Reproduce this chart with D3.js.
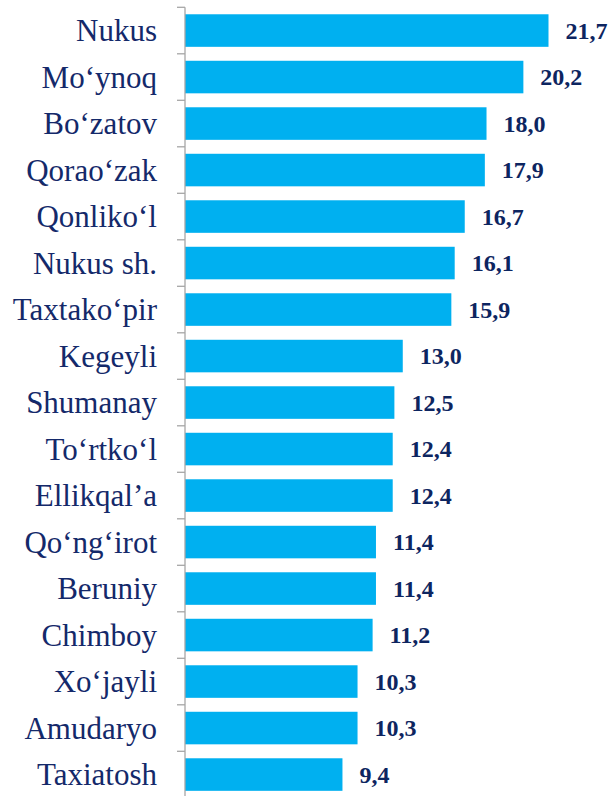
<!DOCTYPE html>
<html>
<head>
<meta charset="utf-8">
<script src="https://cdn.jsdelivr.net/npm/d3@7"></script>
<style>
html, body { margin: 0; padding: 0; background: #fff; }
#graphic { width: 612px; height: 796px; overflow: hidden; }
</style>
</head>
<body>
<div id="graphic"></div>
<script>
var districts = ["Nukus", "Mo‘ynoq", "Bo‘zatov", "Qorao‘zak", "Qonliko‘l", "Nukus sh.", "Taxtako‘pir",
	"Kegeyli", "Shumanay", "To‘rtko‘l", "Ellikqal’a", "Qo‘ng‘irot", "Beruniy", "Chimboy",
	"Xo‘jayli", "Amudaryo", "Taxiatosh"];
var values = [21.7, 20.2, 18.0, 17.9, 16.7, 16.1, 15.9, 13.0, 12.5, 12.4, 12.4, 11.4, 11.4, 11.2, 10.3, 10.3, 9.4];

var width = 612, height = 796;
var axisX = 185;
var topY = 7.3, step = 46.5;

var svg = d3.select("#graphic").append("svg")
	.attr("width", width)
	.attr("height", height);

var data = districts.map(function(d, i) { return {name: d, value: values[i]}; });

var x = d3.scaleLinear().domain([0, 21.7]).range([axisX, 548.5]);
var y = d3.scaleBand()
	.domain(districts)
	.range([topY, topY + step * districts.length])
	.paddingInner(0.3)
	.paddingOuter(0.15);

// bars
svg.selectAll(".bar").data(data).enter()
	.append("rect")
	.attr("class", "bar")
	.attr("x", x(0))
	.attr("y", function(d) { return y(d.name); })
	.attr("width", function(d) { return x(d.value) - x(0); })
	.attr("height", y.bandwidth())
	.attr("fill", "#00B0F0");

// axis line + ticks between categories
var axisColor = "#A6A6A6";
svg.append("line")
	.attr("x1", axisX).attr("x2", axisX)
	.attr("y1", topY).attr("y2", height)
	.attr("stroke", axisColor).attr("stroke-width", 1.3);

var tickPos = d3.range(districts.length + 1).map(function(i) { return topY + i * step; });
svg.selectAll(".tick").data(tickPos).enter()
	.append("line")
	.attr("x1", axisX - 8).attr("x2", axisX)
	.attr("y1", function(d) { return d; })
	.attr("y2", function(d) { return d; })
	.attr("stroke", axisColor).attr("stroke-width", 1.3);

// category labels
svg.selectAll(".label").data(data).enter()
	.append("text")
	.attr("x", 157)
	.attr("y", function(d) { return y(d.name) + y.bandwidth() / 2; })
	.attr("dy", "0.35em")
	.attr("text-anchor", "end")
	.attr("font-family", "'Liberation Serif', 'Times New Roman', serif")
	.attr("font-size", 31)
	.attr("fill", "#14296a")
	.text(function(d) { return d.name; });

// value labels
svg.selectAll(".val").data(data).enter()
	.append("text")
	.attr("x", function(d) { return x(d.value) + 17; })
	.attr("y", function(d) { return y(d.name) + y.bandwidth() / 2; })
	.attr("dy", "0.35em")
	.attr("font-family", "'Liberation Serif', 'Times New Roman', serif")
	.attr("font-weight", "bold")
	.attr("font-size", 24)
	.attr("fill", "#0d2560")
	.text(function(d) { return d3.format(".1f")(d.value).replace(".", ","); });
</script>
</body>
</html>
